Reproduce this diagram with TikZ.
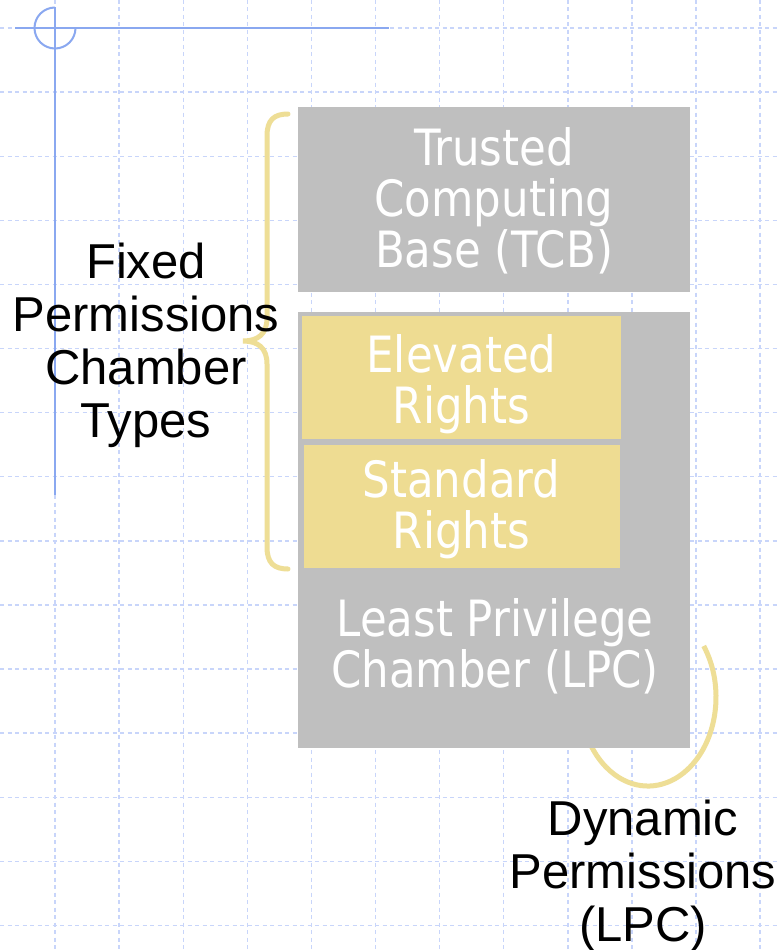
\documentclass[tikz,border=0pt]{standalone}
\usepackage{fontspec}
\setmainfont{Liberation Sans}
\newfontfamily\boxfont[FakeStretch=0.87]{DejaVu Sans}
\definecolor{gridblue}{RGB}{200,213,250}
\definecolor{guideblue}{RGB}{138,168,240}
\definecolor{chambergray}{RGB}{191,191,191}
\definecolor{rightsyellow}{RGB}{238,220,146}
\definecolor{accentyellow}{RGB}{238,222,150}
\tikzset{
  gridline/.style={draw=gridblue, line width=1.4pt, dash pattern=on 4pt off 3.5pt},
  guideline/.style={draw=guideblue, line width=2pt},
  chamber/.style={fill=chambergray, draw=none, inner sep=0pt, anchor=north west},
  rightsbox/.style={fill=rightsyellow, draw=none, inner sep=0pt, anchor=north west},
  boxtext/.style={text=white, align=center, inner sep=0pt,
    font=\boxfont\fontsize{50}{51}\selectfont},
  sidelabel/.style={text=black, align=center, inner sep=0pt,
    font=\fontsize{49}{53}\selectfont},
  accent/.style={draw=accentyellow, line width=5pt}
}
\begin{document}
\begin{tikzpicture}[x=1pt, y=1pt]
  \useasboundingbox (0,0) rectangle (778,-950);
  \fill[white] (0,0) rectangle (778,-950);

  % dashed background grid
  \foreach \i in {0,...,11}
    \draw[gridline] ({55+64.1*\i},0) -- ++(0,-950);
  \foreach \j in {0,...,14}
    \draw[gridline] (0,{-28-64.1*\j}) -- ++(778,0);

  % guide cross with its three-quarter circle
  \draw[guideline] (15,-28) -- (389,-28);
  \draw[guideline] (55,-7) -- (55,-495);
  \draw[guideline] (55,-7.5) arc[start angle=90, end angle=360, radius=20.5pt];

  % dynamic-permissions loop, partly hidden by the LPC chamber
  \draw[accent] (703.7,-646) arc[start angle=35, end angle=-150, x radius=68pt, y radius=89pt];

  % chambers
  \node[chamber, minimum width=392pt, minimum height=185pt] (tcb) at (298,-107) {};
  \node[chamber, minimum width=392pt, minimum height=436pt] (lpc) at (298,-312) {};
  \node[rightsbox, minimum width=319pt, minimum height=123pt] (elevated) at (302,-316) {};
  \node[rightsbox, minimum width=316pt, minimum height=123pt] (standard) at (304,-445) {};

  \node[boxtext] (tcbtext) at (494,-201) {Trusted\\Computing\\Base (TCB)};
  \node[boxtext] (elevtext) at (461.5,-384.5) {Elevated\\Rights};
  \node[boxtext] (stdtext) at (461.5,-509.5) {Standard\\Rights};
  \node[boxtext] (lpctext) at (495,-646.5) {Least Privilege\\Chamber (LPC)};

  % brace grouping the fixed-permission chambers
  \draw[accent, line cap=round]
    (288,-114) .. controls (274,-114) and (267,-120) .. (267,-136)
    -- (267,-318) .. controls (267,-334) and (258,-341) .. (243,-341)
    .. controls (258,-341) and (267,-348) .. (267,-364)
    -- (267,-547) .. controls (267,-563) and (274,-569) .. (288,-569);

  % side labels
  \node[sidelabel] (fixed) at (146,-345) {Fixed\\Permissions\\Chamber\\Types};
  \node[sidelabel] (dynamic) at (643,-875.5) {Dynamic\\Permissions\\(LPC)};
\end{tikzpicture}
\end{document}
